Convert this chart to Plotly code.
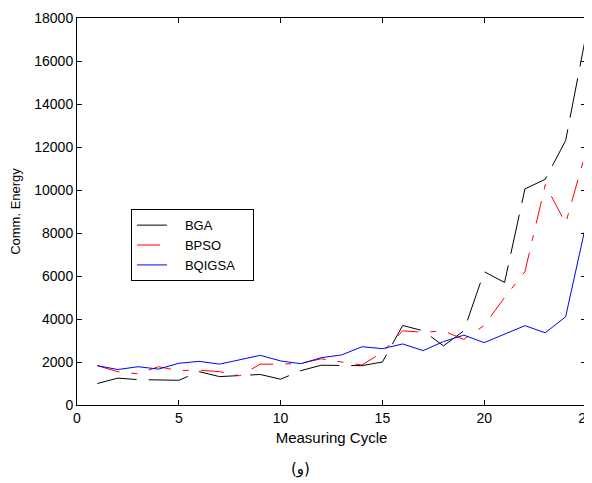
import plotly.graph_objects as go

cycles = list(range(1, 26))
bga = [1000, 1250, 1180, 1150, 1150, 1550, 1320, 1370, 1420, 1200,
       1600, 1850, 1850, 1830, 2000, 3700, 3450, 2750, 3450, 6200,
       5700, 10050, 10500, 12300, 17200]
bpso = [1830, 1550, 1450, 1780, 1600, 1620, 1550, 1360, 1900, 1900,
        1940, 2150, 2000, 1860, 2450, 3450, 3380, 3450, 3050, 3700,
        5000, 6200, 10250, 8450, 11800]
bqigsa = [1830, 1650, 1780, 1670, 1940, 2030, 1900, 2100, 2310, 2050,
          1920, 2200, 2330, 2710, 2620, 2840, 2530, 2950, 3250, 2900,
          3300, 3690, 3360, 4100, 8400]
series_names = ["BGA", "BPSO", "BQIGSA"]
lead = "\u2003"
pad = "\u2003"

fig = go.Figure()
fig.add_trace(go.Scatter(x=cycles, y=bga, mode="lines", name=lead + series_names[0] + pad,
                         line=dict(color="black", width=1, dash="40px,12px")))
fig.add_trace(go.Scatter(x=cycles, y=bpso, mode="lines", name=lead + series_names[1] + pad,
                         line=dict(color="red", width=1, dash="23px,12px,6px,12px")))
fig.add_trace(go.Scatter(x=cycles, y=bqigsa, mode="lines", name=lead + series_names[2] + pad,
                         line=dict(color="blue", width=1)))

axis_common = dict(showline=True, linecolor="black", linewidth=1, mirror="ticks",
                   ticks="inside", ticklen=5, tickcolor="black", showgrid=False,
                   zeroline=False, automargin=False, ticklabeloverflow="allow",
                   tickfont=dict(family="Liberation Sans, Arial", size=14, color="black"))

# page body has an 8px margin, so the figure is sized/offset to compensate
fig.update_layout(
    width=584, height=475,
    margin=dict(l=69, r=6, t=10, b=78),
    paper_bgcolor="white", plot_bgcolor="white",
    font=dict(family="Liberation Sans, Arial", size=14, color="black"),
    xaxis=dict(range=[0, 25], dtick=5, tick0=0,
               title=dict(text="Measuring Cycle", standoff=7,
                          font=dict(size=15, family="Liberation Sans, Arial")),
               **axis_common),
    yaxis=dict(range=[0, 18000], dtick=2000, tick0=0, tickformat="d",
               title=dict(text="Comm. Energy", standoff=18,
                          font=dict(size=13, family="Liberation Sans, Arial")),
               **axis_common),
    legend=dict(x=0.106, y=0.506, xanchor="left", yanchor="top",
                bordercolor="black", borderwidth=1, bgcolor="white",
                font=dict(size=13, family="Liberation Sans, Arial"),
                tracegroupgap=0),
    showlegend=True,
    annotations=[
        dict(text="(و)", xref="paper", yref="paper", x=0.44, y=-0.165,
             xanchor="center", yanchor="middle", showarrow=False,
             font=dict(family="DejaVu Sans", size=15, color="black")),
        dict(text="(ه)", xref="paper", yref="paper", x=0.44, y=1.047,
             xanchor="center", yanchor="middle", showarrow=False,
             font=dict(family="DejaVu Sans", size=15, color="black")),
    ],
)

fig.write_html("out.html")
